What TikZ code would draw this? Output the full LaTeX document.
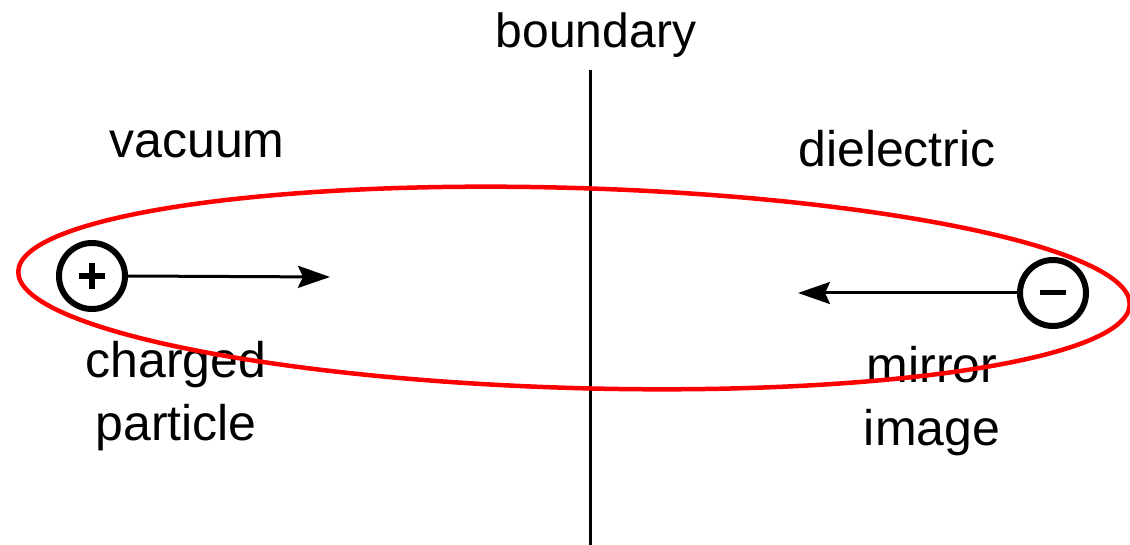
\documentclass[tikz,border=0pt]{standalone}
\usepackage{fontspec}
\setmainfont{Liberation Sans}
\usetikzlibrary{arrows.meta}
\tikzset{
  lbl/.style={font=\fontsize{50}{63}\selectfont, inner sep=0pt, anchor=base, align=center},
  charge/.style={circle, draw, line width=6pt, minimum size=66pt, inner sep=0pt},
  force/.style={line width=3pt, -{Stealth[length=32pt, width=22pt, inset=5pt]}},
  bound/.style={line width=3pt},
  loop/.style={draw=red, line width=4.5pt}
}
\begin{document}
\begin{tikzpicture}[x=1pt, y=-1pt]
\useasboundingbox (0,0) rectangle (1130,545);
% labels
\node[lbl, font=\fontsize{48}{63}\selectfont] (boundary) at (596,48) {boundary};
\node[lbl] (vacuum) at (197,158) {vacuum};
\node[lbl] (dielectric) at (897,167) {dielectric};
\node[lbl] (charged) at (176,440) {charged\\particle};
\node[lbl] (mirror) at (932,445) {mirror\\image};
% boundary line
\coordinate (btop) at (590,70);
\coordinate (bbot) at (590,545);
\draw[bound] (btop) -- (bbot);
% charges
\node[charge] (pos) at (92,276) {};
\node[charge] (neg) at (1053,293) {};
\draw[line width=5.5pt] ([xshift=-13pt]pos.center) -- ([xshift=13pt]pos.center)
                      ([yshift=-13pt]pos.center) -- ([yshift=13pt]pos.center);
\draw[line width=5pt] ([xshift=-13pt]neg.center) -- ([xshift=13pt]neg.center);
\coordinate (tipL) at (330,277);
\coordinate (tipR) at (798,293);
\draw[force] (pos.east) -- (tipL);
\draw[force] (neg.west) -- (tipR);
% red ellipse
\coordinate (ec) at (574,288);
\draw[loop, rotate around={-1.7:(ec)}] (ec) ellipse [x radius=556pt, y radius=100pt];
\end{tikzpicture}
\end{document}
